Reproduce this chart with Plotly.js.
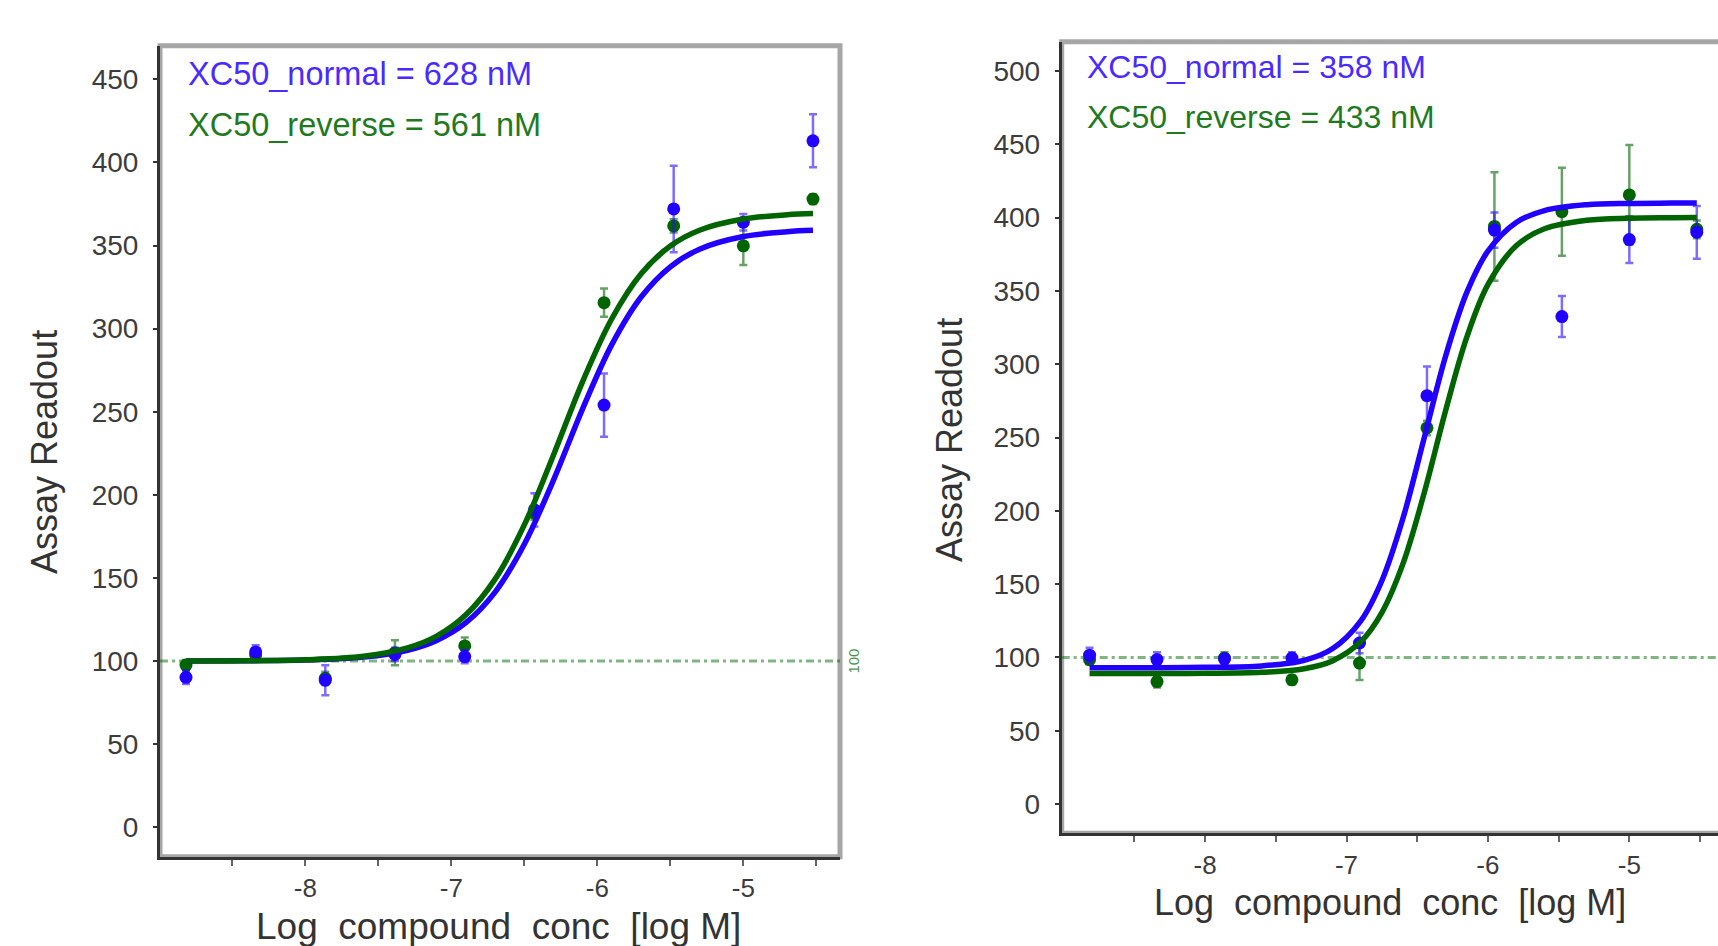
<!DOCTYPE html>
<html>
<head>
<meta charset="utf-8">
<script src="https://cdn.plot.ly/plotly-3.0.1.min.js"></script>
<style>
  html, body { margin: 0; padding: 0; background: #ffffff; }
  #chart { width: 1718px; height: 946px; }
</style>
</head>
<body>
<div id="chart"></div>
<script>
// ---------------- data ----------------
// log10 molar concentrations (3-fold dilution series from 30 uM)
const logConc = [-8.817, -8.340, -7.863, -7.386, -6.908, -6.431, -5.954, -5.477, -5.000, -4.523];

// Left panel
const leftNormal      = [90.2, 105.5, 88.5, 104.0, 102.7, 191.0, 254.0, 372.0, 364.0, 413.0];
const leftNormalErr   = [4, 4, 9, 4, 4, 10, 19, 26, 5, 16];
const leftReverse     = [97.6, 103.7, 89.6, 105.0, 109.1, 189.0, 315.6, 361.8, 349.8, 377.9];
const leftReverseErr  = [3, 3, 4, 7.5, 5, 4, 8.5, 4, 11.5, 3];

// Right panel
const rightNormal     = [101.5, 98.5, 99.0, 99.5, 109.8, 278.5, 391.5, 332.5, 385.0, 390.0];
const rightNormalErr  = [5, 5, 3, 4, 7, 20, 12, 14, 16, 18];
const rightReverse    = [98.4, 83.5, 99.5, 84.7, 96.1, 256.5, 394.0, 404.0, 415.5, 392.0];
const rightReverseErr = [3, 4, 4, 3, 11.5, 5, 37, 30, 34, 6];

// Fitted curves, values
const leftCurveX      = [-8.817, -8.4, -8.0, -7.6, -7.3, -7.1, -6.9, -6.7, -6.5, -6.3, -6.1, -5.9, -5.7, -5.5, -5.3, -5.0, -4.7, -4.523];
const leftNormalFit   = [100.0, 100.2, 100.6, 102.4, 106.5, 112.4, 123.1, 141.5, 170.3, 208.9, 251.9, 290.5, 319.0, 337.2, 347.8, 355.4, 358.3, 359.1];
const leftReverseFit  = [100.1, 100.2, 100.8, 102.9, 107.9, 115.0, 127.8, 149.3, 181.9, 224.0, 268.3, 306.1, 333.0, 349.7, 359.2, 365.9, 368.5, 369.2];

const rightCurveX     = [-8.817, -8.4, -8.0, -7.6, -7.3, -7.1, -6.9, -6.75, -6.6, -6.45, -6.3, -6.15, -6.0, -5.8, -5.6, -5.3, -5.0, -4.7, -4.523];
const rightNormalFit  = [93.0, 93.0, 93.2, 94.2, 98.0, 105.9, 124.8, 152.3, 195.1, 249.9, 305.3, 348.8, 377.1, 396.7, 404.8, 408.8, 409.7, 409.9, 410.0];
const rightReverseFit = [89.0, 89.0, 89.1, 89.8, 92.3, 97.6, 110.6, 130.6, 164.1, 212.4, 268.1, 318.3, 354.3, 380.8, 392.4, 398.2, 399.6, 399.9, 400.0];

// Labels
const leftLabels  = ["XC50_normal = 628 nM", "XC50_reverse = 561 nM"];
const rightLabels = ["XC50_normal = 358 nM", "XC50_reverse = 433 nM"];
const refLevel = 100;
const xTickVals = [-8.5, -8, -7.5, -7, -6.5, -6, -5.5, -5, -4.5];
const xTickText = ["", "-8", "", "-7", "", "-6", "", "-5", ""];
const yTicksLeft  = [0, 50, 100, 150, 200, 250, 300, 350, 400, 450];
const yTicksRight = [0, 50, 100, 150, 200, 250, 300, 350, 400, 450, 500];
const xTitle = "Log\u00a0 compound\u00a0 conc\u00a0 [log M]";
const yTitle = "Assay\u00a0Readout";

// ---------------- styling ----------------
const BLUE = "#2200ff";
const GREEN = "#006400";
const BLUE_ERR = "rgba(40,10,255,0.6)";
const GREEN_ERR = "rgba(0,100,0,0.6)";
const FONT = "Liberation Sans, Arial, Helvetica, sans-serif";
const W = 1718, H = 946;
const px = v => v / W;
const py = v => 1 - v / H;

function pts(x, y, err, color, errColor, xa, ya) {
  return {
    type: "scatter", mode: "markers", x: x, y: y, xaxis: xa, yaxis: ya,
    marker: { color: color, size: 13, symbol: "circle", line: { width: 0 } },
    error_y: { type: "data", array: err, visible: true, color: errColor, thickness: 2.5, width: 4 },
    showlegend: false, hoverinfo: "x+y"
  };
}
function fit(x, y, color, xa, ya) {
  return {
    type: "scatter", mode: "lines", x: x, y: y, xaxis: xa, yaxis: ya,
    line: { color: color, width: 5.5, shape: "spline", smoothing: 1 },
    showlegend: false, hoverinfo: "skip"
  };
}

const traces = [
  pts(logConc, leftReverse, leftReverseErr, GREEN, GREEN_ERR, "x", "y"),
  pts(logConc, leftNormal, leftNormalErr, BLUE, BLUE_ERR, "x", "y"),
  fit(leftCurveX, leftNormalFit, BLUE, "x", "y"),
  fit(leftCurveX, leftReverseFit, GREEN, "x", "y"),
  pts(logConc, rightReverse, rightReverseErr, GREEN, GREEN_ERR, "x2", "y2"),
  pts(logConc, rightNormal, rightNormalErr, BLUE, BLUE_ERR, "x2", "y2"),
  fit(rightCurveX, rightNormalFit, BLUE, "x2", "y2"),
  fit(rightCurveX, rightReverseFit, GREEN, "x2", "y2")
];

const tickFont = { family: FONT, size: 28, color: "#3c3c3c" };
function xAxis(domain, range) {
  return {
    domain: domain, range: range, showgrid: false, zeroline: false,
    showline: true, linecolor: "#333333", linewidth: 3, mirror: false,
    ticks: "outside", ticklen: 6, tickwidth: 2, tickcolor: "#666666",
    tickmode: "array", tickvals: xTickVals, ticktext: xTickText,
    tickfont: { family: FONT, size: 26, color: "#3c3c3c" }, ticklabelstandoff: 0
  };
}
function yAxis(domain, range, vals) {
  return {
    domain: domain, range: range, showgrid: false, zeroline: false,
    showline: true, linecolor: "#333333", linewidth: 3, mirror: false,
    ticks: "outside", ticklen: 4, tickwidth: 2, tickcolor: "#333333",
    tickmode: "array", tickvals: vals, ticktext: vals.map(String),
    tickfont: tickFont, ticklabelstandoff: 9
  };
}

const L = { x0: 160, x1: 840, y0: 45.7, y1: 856.7 };
const R = { x0: 1061.7, x1: 1718, y0: 41.7, y1: 833.3 };

const layout = {
  width: W, height: H,
  margin: { l: 0, r: 0, t: 0, b: 0, pad: 0 },
  paper_bgcolor: "#ffffff", plot_bgcolor: "#ffffff",
  font: { family: FONT },
  xaxis: xAxis([px(L.x0), px(L.x1)], [-8.995, -4.338]),
  yaxis: yAxis([py(L.y1), py(L.y0)], [-17.7, 470.2], yTicksLeft),
  xaxis2: Object.assign(xAxis([px(R.x0), 1], [-9.014, -4.373]), { anchor: "y2" }),
  yaxis2: Object.assign(yAxis([py(R.y1), py(R.y0)], [-20, 520], yTicksRight), { anchor: "x2" }),
  shapes: [
    { type: "rect", xref: "paper", yref: "paper", layer: "below",
      x0: px(L.x0), x1: px(L.x1), y0: py(L.y1), y1: py(L.y0),
      line: { color: "#a6a6a6", width: 5 }, fillcolor: "rgba(0,0,0,0)" },
    { type: "rect", xref: "paper", yref: "paper", layer: "below",
      x0: px(R.x0), x1: 1.01, y0: py(R.y1), y1: py(R.y0),
      line: { color: "#a6a6a6", width: 5 }, fillcolor: "rgba(0,0,0,0)" },
    { type: "line", xref: "x domain", yref: "y", layer: "below",
      x0: 0, x1: 1, y0: refLevel, y1: refLevel,
      line: { color: "rgba(0,110,0,0.5)", width: 3, dash: "8px,4px,3px,4px" } },
    { type: "line", xref: "x2 domain", yref: "y2", layer: "below",
      x0: 0, x1: 1, y0: refLevel, y1: refLevel,
      line: { color: "rgba(0,110,0,0.5)", width: 3, dash: "8px,4px,3px,4px" } }
  ],
  annotations: [
    { xref: "paper", yref: "paper", x: px(186), y: py(74), xanchor: "left", yanchor: "middle",
      text: leftLabels[0], showarrow: false, font: { family: FONT, size: 32.5, color: "#4a2bff" } },
    { xref: "paper", yref: "paper", x: px(186), y: py(125), xanchor: "left", yanchor: "middle",
      text: leftLabels[1], showarrow: false, font: { family: FONT, size: 32.5, color: "#1f7a1f" } },
    { xref: "paper", yref: "paper", x: px(1085), y: py(66.7), xanchor: "left", yanchor: "middle",
      text: rightLabels[0], showarrow: false, font: { family: FONT, size: 32, color: "#4a2bff" } },
    { xref: "paper", yref: "paper", x: px(1085), y: py(116.7), xanchor: "left", yanchor: "middle",
      text: rightLabels[1], showarrow: false, font: { family: FONT, size: 32, color: "#1f7a1f" } },
    { xref: "x domain", yref: "y", x: 1, y: refLevel, xanchor: "left", yanchor: "middle", xshift: 3,
      text: String(refLevel), textangle: -90, showarrow: false,
      font: { family: FONT, size: 15, color: "rgba(0,110,0,0.75)" } },
    { xref: "paper", yref: "paper", x: px(44), y: py(452), xanchor: "center", yanchor: "middle",
      text: yTitle, textangle: -90, showarrow: false, font: { family: FONT, size: 36, color: "#333333" } },
    { xref: "paper", yref: "paper", x: px(950), y: py(440), xanchor: "center", yanchor: "middle",
      text: yTitle, textangle: -90, showarrow: false, font: { family: FONT, size: 36, color: "#333333" } },
    { xref: "paper", yref: "paper", x: px(498.6), y: py(926), xanchor: "center", yanchor: "middle",
      text: xTitle, showarrow: false, font: { family: FONT, size: 37, color: "#333333" } },
    { xref: "paper", yref: "paper", x: px(1390), y: py(902), xanchor: "center", yanchor: "middle",
      text: xTitle, showarrow: false, font: { family: FONT, size: 36, color: "#333333" } }
  ]
};

Plotly.newPlot("chart", traces, layout, { displayModeBar: false, staticPlot: true });
</script>
</body>
</html>
